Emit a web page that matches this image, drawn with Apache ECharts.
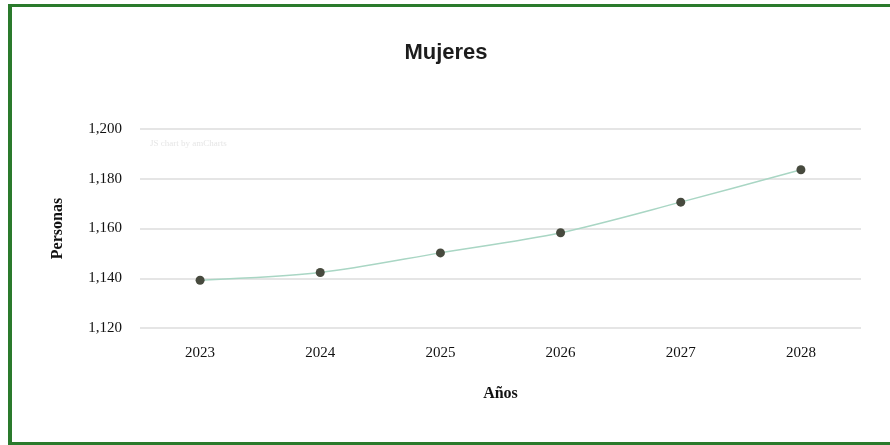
<!DOCTYPE html>
<html>
<head>
<meta charset="utf-8">
<script src="https://cdn.jsdelivr.net/npm/echarts@6/dist/echarts.min.js"></script>
<style>
html,body{margin:0;padding:0;background:#fff;}
#c{width:890px;height:445px;}
</style>
</head>
<body>
<div id="c"></div>
<script>
const years = ['2023','2024','2025','2026','2027','2028'];
const mujeres = [1139.2, 1142.3, 1150.2, 1158.3, 1170.6, 1183.6];
const yTicks = {min: 1120, max: 1200, interval: 20};

const chart = echarts.init(document.getElementById('c'));
chart.setOption({
  animation: false,
  backgroundColor: '#fff',
  title: {
    text: 'Mujeres',
    left: 441, top: 37, textAlign: 'center',
    textStyle: {fontFamily: 'Liberation Sans', fontSize: 22, fontWeight: 'bold', color: '#1c1c1c'}
  },
  graphic: [
    {type: 'rect', shape: {x: 8, y: 4, width: 882, height: 3}, style: {fill: '#2a7a2c'}},
    {type: 'rect', shape: {x: 8, y: 4, width: 4, height: 441}, style: {fill: '#2a7a2c'}},
    {type: 'rect', shape: {x: 8, y: 442, width: 882, height: 3}, style: {fill: '#2a7a2c'}},
    {type: 'text', left: 150, top: 139, style: {text: 'JS chart by amCharts', font: '9px "Liberation Serif"', fill: '#e6e6e6'}}
  ],
  grid: {left: 140, right: 29, top: 129, bottom: 117},
  xAxis: {
    type: 'category',
    data: years,
    boundaryGap: true,
    axisLine: {show: false},
    axisTick: {show: false},
    axisLabel: {fontFamily: 'Liberation Serif', fontSize: 15, color: '#111', margin: 18},
    name: 'Años',
    nameLocation: 'middle',
    nameGap: 58,
    nameTextStyle: {fontFamily: 'Liberation Serif', fontSize: 16, fontWeight: 'bold', color: '#111'}
  },
  yAxis: {
    type: 'value',
    min: yTicks.min, max: yTicks.max, interval: yTicks.interval,
    axisLine: {show: false},
    axisTick: {show: false},
    splitLine: {lineStyle: {color: '#dcdcdc', width: 1.5}},
    axisLabel: {
      fontFamily: 'Liberation Serif', fontSize: 15, color: '#111', margin: 18,
      formatter: v => v.toLocaleString('en-US')
    },
    name: 'Personas',
    nameLocation: 'middle',
    nameGap: 74,
    nameRotate: 90,
    nameTextStyle: {fontFamily: 'Liberation Serif', fontSize: 16, fontWeight: 'bold', color: '#111'}
  },
  series: [{
    type: 'line',
    data: mujeres,
    smooth: 0.3,
    symbol: 'circle',
    symbolSize: 9,
    lineStyle: {color: '#a9d6c4', width: 1.5},
    itemStyle: {color: '#474a3e'}
  }]
});
</script>
</body>
</html>
